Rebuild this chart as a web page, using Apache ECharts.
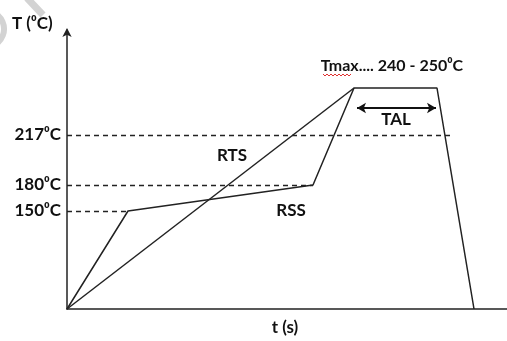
<!DOCTYPE html>
<html>
<head>
<meta charset="utf-8">
<script src="https://cdn.jsdelivr.net/npm/echarts@6/dist/echarts.min.js"></script>
<style>html,body{margin:0;padding:0;background:#fff;}#c{width:507px;height:341px;}</style>
</head>
<body>
<div id="c"></div>
<script>
// Schematic diagram units (time, level)
const rssT = [0, 61, 246, 287, 370, 407];
const rssLevel = [0, 98, 124, 221, 221, 0];
const rtsT = [0, 287];
const rtsLevel = [0, 221];
const refLabels = ['150\u2070C', '180\u2070C', '217\u2070C'];
const refLevels = [98, 124, 174];
const refEnds = [61, 246, 383];
const talRange = [290, 369];
const talLevel = 201;

const FONT = 'Lato';
const FS = 17;
const chart = echarts.init(document.getElementById('c'));

const refLines = refLevels.map((lv, i) => [
  { coord: [0, lv], label: { formatter: refLabels[i] } },
  { coord: [refEnds[i], lv] }
]);

chart.setOption({
  animation: false,
  backgroundColor: '#fff',
  grid: { left: 67, right: 0, top: 30, bottom: 32 },
  xAxis: {
    type: 'value', min: 0, max: 440,
    axisLine: { show: true, lineStyle: { color: '#222', width: 1.5 } },
    axisTick: { show: false }, axisLabel: { show: false }, splitLine: { show: false }
  },
  yAxis: {
    type: 'value', min: 0, max: 279,
    axisLine: { show: true, symbol: ['none', 'arrow'], symbolSize: [7, 9], symbolOffset: [0, 2], lineStyle: { color: '#222', width: 1.5 } },
    axisTick: { show: false }, axisLabel: { show: false }, splitLine: { show: false }
  },
  series: [
    {
      type: 'line', name: 'RSS', data: rssT.map((t, i) => [t, rssLevel[i]]),
      symbol: 'none', lineStyle: { color: '#222', width: 1.5 }
    },
    {
      type: 'line', name: 'RTS', data: rtsT.map((t, i) => [t, rtsLevel[i]]),
      symbol: 'none', lineStyle: { color: '#222', width: 1.5 },
      markLine: {
        silent: true, symbol: ['none', 'none'],
        lineStyle: { color: '#222', type: [5, 4], width: 1.4 },
        label: { show: true, position: 'start', distance: 6, color: '#111', fontFamily: FONT, fontWeight: 'bold', fontSize: FS },
        data: refLines
      }
    },
    {
      type: 'line', name: 'TAL', data: [],
      markLine: {
        silent: true, symbol: ['arrow', 'arrow'], symbolSize: [8, 9],
        lineStyle: { color: '#111', type: 'solid', width: 1.8 },
        label: { show: false },
        data: [[{ coord: [talRange[0], talLevel] }, { coord: [talRange[1], talLevel] }]]
      }
    }
  ],
  graphic: [
    { type: 'line', shape: { x1: 27, y1: -2, x2: 43, y2: 15 }, style: { stroke: '#d3d3d3', lineWidth: 7 }, z: -1 },
    { type: 'arc', shape: { cx: -14, cy: 29, r: 18, startAngle: -1.2, endAngle: 1.2 }, style: { stroke: '#d3d3d3', lineWidth: 6, fill: 'none' }, z: -1 },
    { type: 'text', x: 12, y: 24, style: { text: 'T (\u2070C)', font: 'bold ' + FS + 'px ' + FONT, fill: '#111', textVerticalAlign: 'middle' } },
    { type: 'text', x: 285, y: 328, style: { text: 't (s)', font: 'bold ' + FS + 'px ' + FONT, fill: '#111', textAlign: 'center', textVerticalAlign: 'middle' } },
    { type: 'text', x: 232, y: 156, style: { text: 'RTS', font: 'bold ' + FS + 'px ' + FONT, fill: '#111', textAlign: 'center', textVerticalAlign: 'middle' } },
    { type: 'text', x: 291, y: 211, style: { text: 'RSS', font: 'bold ' + FS + 'px ' + FONT, fill: '#111', textAlign: 'center', textVerticalAlign: 'middle' } },
    { type: 'text', x: 396, y: 120, style: { text: 'TAL', font: 'bold ' + FS + 'px ' + FONT, fill: '#111', textAlign: 'center', textVerticalAlign: 'middle' } },
    { type: 'text', x: 392, y: 66, style: { text: 'Tmax.... 240 - 250\u2070C', font: 'bold 16px ' + FONT, fill: '#111', textAlign: 'center', textVerticalAlign: 'middle' } },
    { type: 'polyline', shape: { points: [[323,74],[325,76],[327,74],[329,76],[331,74],[333,76],[335,74],[337,76],[339,74],[341,76],[343,74],[345,76],[347,74],[349,76],[351,74]] }, style: { stroke: '#e03030', lineWidth: 1, fill: 'none' } }
  ]
});
</script>
</body>
</html>
